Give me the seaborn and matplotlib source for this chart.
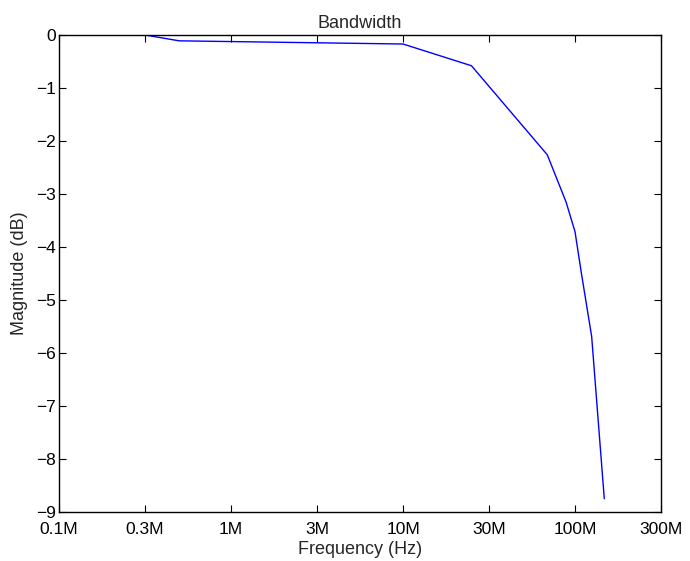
import numpy as np
import pandas as pd
import matplotlib
matplotlib.use('Agg')
import matplotlib.pyplot as plt
import seaborn as sns

# Dados
freq_hz = [3.16e5, 5.0e5, 1.0e7, 2.5e7, 6.9e7, 8.87e7, 1.0e8, 1.09e8, 1.25e8, 1.48e8]
mag_db = [0.0, -0.11, -0.17, -0.58, -2.26, -3.15, -3.71, -4.50, -5.69, -8.75]

tick_pos = [10 ** (5 + 0.5 * k) for k in range(8)]
tick_labels = ['0.1M', '0.3M', '1M', '3M', '10M', '30M', '100M', '300M']

df = pd.DataFrame({'Frequency': freq_hz, 'Magnitude': mag_db})

sns.set_style('ticks')
plt.rcParams['font.family'] = ['Liberation Sans', 'DejaVu Sans']
plt.rcParams['font.size'] = 13

fig = plt.figure(figsize=(6.9, 5.61), dpi=100)
ax = fig.add_axes([59 / 690, 49 / 561, 602 / 690, 477 / 561])

sns.lineplot(data=df, x='Frequency', y='Magnitude', ax=ax, color='#0000ff',
             linewidth=1.0, sort=False)

ax.set_xscale('log')
ax.set_xlim(tick_pos[0], tick_pos[-1])
ax.set_xticks(tick_pos)
ax.set_xticklabels(tick_labels)
ax.minorticks_off()
ax.set_ylim(-9, 0)
ax.set_yticks(range(-9, 1))

ax.tick_params(direction='in', top=True, right=True, length=5, width=0.8,
               labelsize=12.5, colors='black')
ax.tick_params(axis='x', pad=7)
ax.tick_params(axis='y', pad=2)
for s in ax.spines.values():
    s.set_linewidth(1.0)
    s.set_color('black')

ax.set_title('Bandwidth', fontsize=13, pad=5)
ax.set_xlabel('Frequency (Hz)', fontsize=13, labelpad=3)
ax.set_ylabel('Magnitude (dB)', fontsize=13, labelpad=6)

fig.savefig('out.png', dpi=100)
